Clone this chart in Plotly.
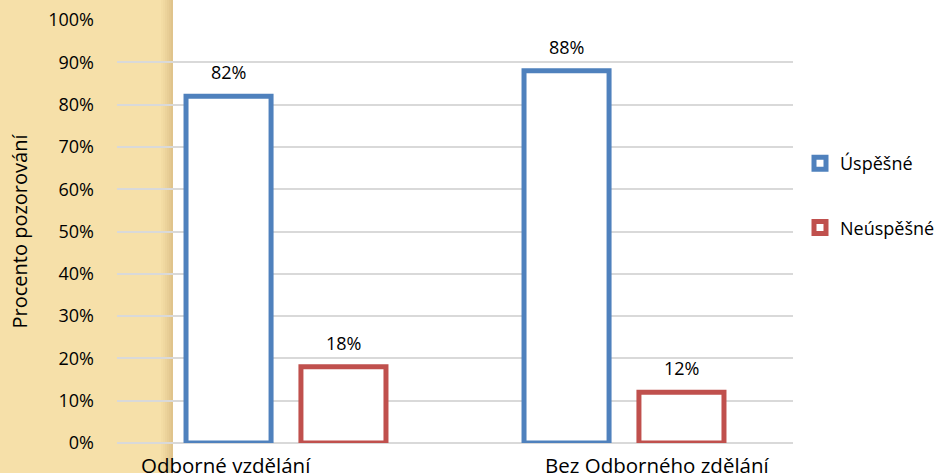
import plotly.graph_objects as go

# Data
categories = ["Odborné vzdělání", "Bez Odborného zdělání"]
series_names = ["Úspěšné", "Neúspěšné"]
uspesne = [0.82, 0.88]
neuspesne = [0.18, 0.12]
series_values = [uspesne, neuspesne]
series_colors = ["#4F81BD", "#C0504D"]
y_ticks = [i / 10 for i in range(11)]
y_title = "Procento pozorování"

FONT = "Open Sans"
TEXT_COLOR = "#000000"
BARGAP = 0.32
BARGROUPGAP = 0.26

W, H = 948, 473
ML, MR, MT, MB = 117, 155, 20, 30
PW = W - ML - MR
PH = H - MT - MB

fig = go.Figure()
for name, vals, col in zip(series_names, series_values, series_colors):
    fig.add_trace(go.Bar(
        x=categories, y=vals, name=name,
        marker=dict(color="white", line=dict(color=col, width=5)),
        legendgroup=name,
        hoverinfo="skip",
    ))

# Value labels above each bar
annotations = []
slot = (1 - BARGAP) / 2
for si, vals in enumerate(series_values):
    offset = (si - 0.5) * slot
    for ci, v in enumerate(vals):
        annotations.append(dict(
            x=ci + offset, y=v, xref="x", yref="y",
            text=f"{round(v * 100)}%", showarrow=False,
            yanchor="middle", yshift=24,
            font=dict(family=FONT, size=18, color=TEXT_COLOR),
        ))

# Category labels under the axis
label_shifts = [-60, 33]
for ci, (cat, sh) in enumerate(zip(categories, label_shifts)):
    annotations.append(dict(
        x=ci, y=0, xref="x", yref="paper",
        text=cat, showarrow=False, xshift=sh, yshift=-22,
        yanchor="middle",
        font=dict(family=FONT, size=20.5, color=TEXT_COLOR),
    ))

# Decorative tan panel on the left edge, with a soft shadow at its border
def px_x(px):
    return (px - ML) / PW

def px_y(py):
    return 1 - (py - MT) / PH

shapes = [dict(
    type="rect", xref="paper", yref="paper", layer="below",
    x0=px_x(0), x1=px_x(173), y0=px_y(H), y1=px_y(0),
    fillcolor="#F6E0A9", line=dict(width=0),
)]
shadow = ["#F3DCA4", "#F0D8A0", "#ECD39B", "#E8CE96", "#E4C991", "#E0C48C"]
for i, c in enumerate(shadow):
    shapes.append(dict(
        type="rect", xref="paper", yref="paper", layer="below",
        x0=px_x(161 + i * 2), x1=px_x(163 + i * 2), y0=px_y(H), y1=px_y(0),
        fillcolor=c, line=dict(width=0),
    ))

fig.update_layout(
    width=W, height=H,
    margin=dict(l=ML, r=MR, t=MT, b=MB, autoexpand=False),
    paper_bgcolor="white", plot_bgcolor="rgba(0,0,0,0)",
    barmode="group", bargap=BARGAP, bargroupgap=BARGROUPGAP,
    font=dict(family=FONT, size=18, color=TEXT_COLOR),
    showlegend=True,
    legend=dict(
        x=px_x(800), xanchor="left", y=px_y(145), yanchor="top",
        traceorder="grouped", tracegroupgap=38,
        font=dict(family=FONT, size=18, color=TEXT_COLOR),
        bgcolor="rgba(0,0,0,0)", itemclick=False, itemdoubleclick=False,
    ),
    xaxis=dict(showticklabels=False, showgrid=False, zeroline=False,
               showline=False, ticks="", fixedrange=True),
    yaxis=dict(
        range=[0, 1], tickvals=y_ticks, tickformat=".0%",
        showgrid=True, gridcolor="#D9D9D9", gridwidth=2,
        zeroline=True, zerolinecolor="#D9D9D9", zerolinewidth=2,
        showline=False, ticks="", ticklabelstandoff=22,
        tickfont=dict(family=FONT, size=18, color=TEXT_COLOR),
        title=dict(text=y_title, standoff=15,
                   font=dict(family=FONT, size=20, color=TEXT_COLOR)),
        automargin=False, fixedrange=True,
    ),
    annotations=annotations,
    shapes=shapes,
)

fig.write_html("out.html", config={"displayModeBar": False})
